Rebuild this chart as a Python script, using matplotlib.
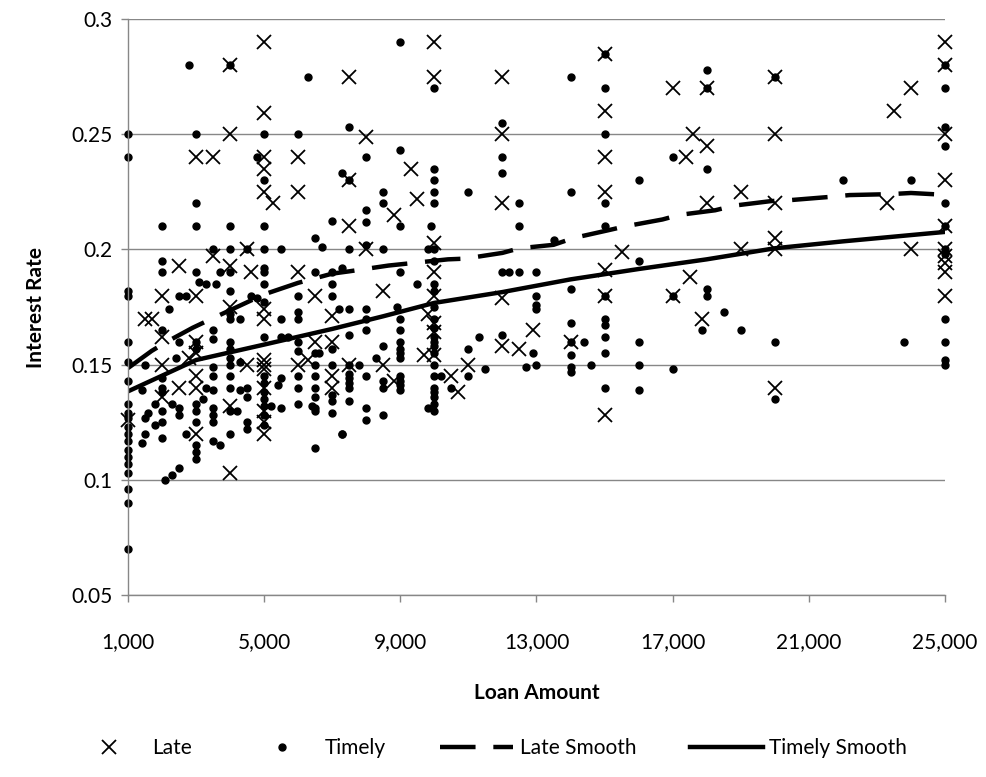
import matplotlib
matplotlib.use("Agg")
import matplotlib.pyplot as plt
from matplotlib.ticker import FuncFormatter, MultipleLocator

plt.rcParams["font.family"] = ["Lato", "DejaVu Sans"]

# Late loans (x markers): (loan amount, interest rate)
late = [
    (5000, 0.29), (4000, 0.28), (7500, 0.275), (5000, 0.259), (4000, 0.25),
    (3000, 0.24), (3500, 0.24), (5000, 0.24), (5000, 0.235), (6000, 0.24),
    (5000, 0.225), (6000, 0.225), (5250, 0.22), (4500, 0.2), (3500, 0.197),
    (2500, 0.193), (4000, 0.193), (4600, 0.19), (6000, 0.19),
    (2000, 0.18), (3000, 0.18), (6500, 0.18), (1500, 0.17), (1700, 0.17),
    (4000, 0.175), (5000, 0.174), (5000, 0.17), (7000, 0.171), (2000, 0.162),
    (3000, 0.16), (6500, 0.16), (7000, 0.16), (2000, 0.15), (2800, 0.153),
    (3000, 0.155), (4500, 0.15), (5000, 0.152), (5000, 0.15), (5000, 0.148),
    (6000, 0.15), (6300, 0.152), (2000, 0.136), (2500, 0.14), (3000, 0.145),
    (3000, 0.14), (7000, 0.145), (7000, 0.14), (1000, 0.126), (4000, 0.132),
    (3000, 0.12), (5000, 0.12), (4000, 0.103), (5000, 0.14), (5000, 0.13),
    (5000, 0.125),
    (10000, 0.29), (10000, 0.275), (12000, 0.275), (8000, 0.249),
    (12000, 0.25), (9300, 0.235), (12000, 0.22), (7500, 0.23), (9500, 0.222),
    (8800, 0.215), (7500, 0.21), (10000, 0.203), (8000, 0.2),
    (10000, 0.19), (8500, 0.182), (10000, 0.18), (12000, 0.179),
    (9800, 0.172), (10000, 0.168), (10000, 0.164), (9700, 0.154),
    (10000, 0.154), (8500, 0.15), (7500, 0.15), (11000, 0.15),
    (12000, 0.158), (12500, 0.157), (12900, 0.165), (8800, 0.143),
    (10500, 0.145), (10700, 0.138),
    (15000, 0.285), (17000, 0.27), (18000, 0.27), (20000, 0.275),
    (15000, 0.26), (17600, 0.25), (18000, 0.245), (20000, 0.25),
    (15000, 0.24), (17400, 0.24), (15000, 0.225), (18000, 0.22),
    (19000, 0.225), (20000, 0.22), (20000, 0.205), (15500, 0.199),
    (19000, 0.2), (20000, 0.2), (15000, 0.191), (15000, 0.18), (17000, 0.18),
    (17500, 0.188), (17850, 0.17), (14000, 0.16), (15000, 0.128),
    (20000, 0.14),
    (25000, 0.29), (25000, 0.28), (24000, 0.27), (23500, 0.26), (25000, 0.25),
    (25000, 0.23), (23300, 0.22), (25000, 0.21), (24000, 0.2), (25000, 0.2),
    (25000, 0.197), (25000, 0.194), (25000, 0.19), (25000, 0.18),
]

# Timely loans (dots)
timely = [
    (2800, 0.28), (4000, 0.28), (6300, 0.275), (1000, 0.25), (3000, 0.25),
    (5000, 0.25), (6000, 0.25), (1000, 0.24), (4800, 0.24), (5000, 0.23),
    (3000, 0.22), (2000, 0.21), (3000, 0.21), (4000, 0.21), (5000, 0.21),
    (7000, 0.2125), (6500, 0.205), (6700, 0.201), (3500, 0.2), (4000, 0.2),
    (4500, 0.2), (5000, 0.2), (5500, 0.2), (2000, 0.195),
    (2000, 0.19), (3000, 0.19), (3700, 0.19), (4000, 0.19), (5000, 0.192),
    (5000, 0.19), (6500, 0.19), (7000, 0.19), (3100, 0.186), (3300, 0.185),
    (3600, 0.185), (1000, 0.182), (1000, 0.18), (2500, 0.18), (2700, 0.18),
    (4000, 0.182), (5000, 0.185), (4600, 0.18), (4800, 0.179), (6000, 0.18),
    (7000, 0.185), (7000, 0.18), (2200, 0.174), (4000, 0.172), (4000, 0.17),
    (4300, 0.17), (5000, 0.177), (5500, 0.17), (6000, 0.173), (6000, 0.17),
    (2000, 0.165), (3000, 0.16), (3500, 0.165), (3500, 0.161), (4000, 0.16),
    (4000, 0.157), (1000, 0.16), (2500, 0.16), (5000, 0.162), (5500, 0.162),
    (5700, 0.162), (6000, 0.16), (6000, 0.156), (7000, 0.157), (6500, 0.155),
    (6600, 0.155), (1000, 0.151), (1500, 0.15), (2400, 0.153), (3000, 0.157),
    (3500, 0.149), (4000, 0.153), (4000, 0.15), (4300, 0.151), (6500, 0.15),
    (7000, 0.15), (1000, 0.143), (1400, 0.139), (2000, 0.144), (2000, 0.14),
    (2000, 0.138), (3300, 0.14), (3500, 0.145), (3500, 0.139), (4000, 0.145),
    (4000, 0.14), (4300, 0.139), (4500, 0.14), (4500, 0.136), (5000, 0.145),
    (5000, 0.142), (5000, 0.138), (5000, 0.135), (5000, 0.132),
    (5000, 0.128), (5000, 0.124), (5500, 0.144), (5400, 0.141), (6000, 0.145),
    (6000, 0.14), (6500, 0.145), (6500, 0.14), (6500, 0.136), (6500, 0.131),
    (7000, 0.137), (7000, 0.134), (7000, 0.129), (1000, 0.133), (1000, 0.129),
    (1000, 0.127), (1800, 0.133), (1600, 0.129), (1500, 0.127), (2000, 0.13),
    (2000, 0.125), (2300, 0.133), (2500, 0.131), (2500, 0.128), (3000, 0.133),
    (3000, 0.13), (3000, 0.125), (3200, 0.135), (4000, 0.13), (4200, 0.13),
    (3500, 0.131), (3500, 0.128), (3500, 0.125), (4500, 0.125), (4500, 0.122),
    (5200, 0.132), (5500, 0.131), (6000, 0.133), (6400, 0.132), (6500, 0.13),
    (7300, 0.12), (1000, 0.123), (1000, 0.12), (1000, 0.117), (1000, 0.113),
    (1000, 0.11), (1000, 0.107), (1500, 0.12), (1400, 0.116), (1800, 0.124),
    (2000, 0.118), (2700, 0.12), (3000, 0.115), (3000, 0.112), (3000, 0.109),
    (3500, 0.117), (3700, 0.115), (4000, 0.12), (6500, 0.114), (1000, 0.103),
    (1000, 0.096), (1000, 0.09), (2100, 0.1), (2300, 0.102), (2500, 0.105),
    (1000, 0.07),
    (9000, 0.29), (10000, 0.27), (7500, 0.253), (12000, 0.255), (8000, 0.24),
    (9000, 0.243), (10000, 0.235), (10000, 0.23), (10000, 0.225),
    (10000, 0.22), (12000, 0.24), (12000, 0.233), (11000, 0.225),
    (12500, 0.22), (12500, 0.21), (7300, 0.233), (7500, 0.23), (8500, 0.225),
    (8500, 0.22), (8000, 0.217), (8000, 0.212), (9000, 0.21), (9900, 0.21),
    (7500, 0.2), (8000, 0.202), (8500, 0.2), (9800, 0.2), (10000, 0.2),
    (7300, 0.192),
    (9000, 0.19), (9500, 0.185), (12000, 0.19), (12200, 0.19), (12500, 0.19),
    (13000, 0.19), (10000, 0.182), (13000, 0.18), (13000, 0.176),
    (13000, 0.174), (7200, 0.174), (7500, 0.174), (8000, 0.174),
    (8900, 0.175), (8000, 0.17), (8000, 0.165), (9000, 0.17), (9000, 0.165),
    (10000, 0.17), (10000, 0.166), (10000, 0.162), (7500, 0.163),
    (9000, 0.16), (9000, 0.157), (9000, 0.155), (9000, 0.153), (10000, 0.158),
    (8500, 0.158), (8300, 0.153), (7500, 0.15), (7800, 0.15), (11000, 0.157),
    (11300, 0.162), (12000, 0.163), (12900, 0.155), (12700, 0.149),
    (13000, 0.15), (11500, 0.148), (7500, 0.146), (7500, 0.144),
    (7500, 0.142), (7500, 0.14), (8000, 0.145), (8500, 0.143), (8500, 0.14),
    (9000, 0.145), (9000, 0.143), (9000, 0.141), (9000, 0.139),
    (10000, 0.145), (10200, 0.145), (10000, 0.14), (10000, 0.138),
    (10000, 0.136), (10500, 0.14), (11000, 0.145), (7500, 0.134),
    (8000, 0.131), (8000, 0.126), (8500, 0.128), (9800, 0.131), (7300, 0.12),
    (10000, 0.13), (10000, 0.133), (10000, 0.15), (10000, 0.155),
    (10000, 0.16), (10000, 0.175), (10000, 0.185), (10000, 0.195),
    (14000, 0.275), (15000, 0.27), (18000, 0.278), (18000, 0.27),
    (20000, 0.275), (15000, 0.25), (17000, 0.24), (18000, 0.235),
    (14000, 0.225), (15000, 0.22), (16000, 0.23), (15000, 0.21),
    (13500, 0.204), (16000, 0.195), (15000, 0.285),
    (14000, 0.183), (15000, 0.18), (17000, 0.18), (18000, 0.183),
    (18000, 0.18), (17850, 0.165), (18500, 0.173), (19000, 0.165),
    (20000, 0.16), (14000, 0.168), (15000, 0.17), (15000, 0.167),
    (15000, 0.162), (14000, 0.16), (14400, 0.16), (16000, 0.16),
    (15000, 0.155), (14000, 0.154), (14000, 0.149), (14000, 0.147),
    (14600, 0.15), (16000, 0.15), (17000, 0.148), (15000, 0.14),
    (16000, 0.139), (20000, 0.135),
    (25000, 0.28), (25000, 0.27), (25000, 0.253), (25000, 0.245),
    (22000, 0.23), (24000, 0.23), (25000, 0.22), (25000, 0.21), (25000, 0.2),
    (25000, 0.198), (25000, 0.17), (23800, 0.16), (25000, 0.16),
    (25000, 0.152), (25000, 0.15),
]

# smoothed trend lines
late_smooth_x = [1000, 1700, 2150, 2900, 3400, 4200, 5000, 6000, 7000,
                 7500, 8650, 9300, 10400, 10900, 12000, 12500, 13500, 14100,
                 15100, 15600, 16700, 17200, 18250, 18800, 19900, 20450,
                 21700, 22200, 23400, 24000, 25000]
late_smooth_y = [0.1485, 0.156, 0.160, 0.166, 0.1695, 0.175, 0.1805, 0.1855,
                 0.1895, 0.1905, 0.193, 0.194, 0.1957, 0.196, 0.1985,
                 0.2005, 0.202, 0.205, 0.2083, 0.210, 0.213, 0.215, 0.217,
                 0.219, 0.221, 0.2214, 0.2229, 0.2236, 0.224, 0.2245, 0.2237]
timely_smooth_x = [1000, 3000, 5000, 7000, 8500, 10000, 12000, 14000, 16000,
                   18000, 20000, 22000, 25000]
timely_smooth_y = [0.1384, 0.152, 0.1587, 0.1655, 0.171, 0.1768, 0.1815,
                   0.187, 0.1915, 0.1957, 0.2005, 0.2035, 0.2076]

x_ticks = list(range(1000, 25001, 4000))

fig = plt.figure(figsize=(9.86, 7.77), dpi=100)
ax = fig.add_axes([0.1298, 0.2342, 0.8286, 0.7413])

grid_c = "#878787"
ax.grid(axis="y", color=grid_c, lw=1.0)
ax.set_axisbelow(True)
for side in ("top", "right"):
    ax.spines[side].set_visible(False)
for side in ("left", "bottom"):
    ax.spines[side].set_color(grid_c)
    ax.spines[side].set_linewidth(1.0)

lx, ly = zip(*late)
tx, ty = zip(*timely)
ax.plot(tx, ty, ls="none", marker="o", ms=5, color="black", clip_on=False,
        label="Timely")
ax.plot(lx, ly, ls="none", marker="x", ms=10, mew=1.3, color="black",
        clip_on=False, label="Late")
ax.plot(late_smooth_x, late_smooth_y, color="black", lw=3.2,
        dashes=(8, 4), label="Late Smooth")
ax.plot(timely_smooth_x, timely_smooth_y, color="black", lw=3.2,
        label="Timely Smooth")

ax.set_xlim(1000, 25000)
ax.set_ylim(0.05, 0.3)
ax.set_xticks(x_ticks)
ax.xaxis.set_major_formatter(FuncFormatter(lambda v, p: f"{int(v):,}"))
ax.yaxis.set_major_locator(MultipleLocator(0.05))
ax.yaxis.set_major_formatter(FuncFormatter(lambda v, p: f"{v:g}"))
ax.tick_params(axis="both", colors=grid_c, labelcolor="black", labelsize=15,
               length=5, width=1.0)
ax.tick_params(axis="x", pad=22)
ax.tick_params(axis="y", pad=6)

ax.set_xlabel("Loan Amount", fontsize=15, fontweight="bold", labelpad=22)
ax.set_ylabel("Interest Rate", fontsize=15, fontweight="bold", labelpad=18)

handles, labels = ax.get_legend_handles_labels()
order = [1, 0, 2, 3]
fig.legend([handles[i] for i in order], [labels[i] for i in order],
           loc="lower center", bbox_to_anchor=(0.497, 0.0), ncol=4,
           frameon=False, fontsize=15, handlelength=3.5, handletextpad=0.3,
           columnspacing=2.6)

fig.savefig("out.png", dpi=100)
